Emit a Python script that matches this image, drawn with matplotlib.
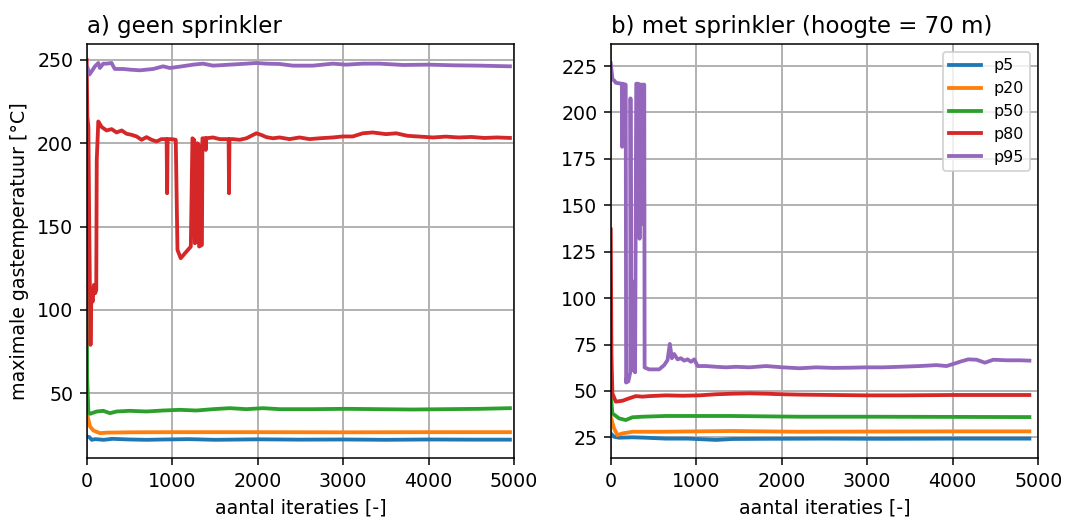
import matplotlib
matplotlib.use("Agg")
import matplotlib.pyplot as plt

labels = ["p5", "p20", "p50", "p80", "p95"]

# a) geen sprinkler
a_p5_x = [0, 7, 31, 60, 100, 200, 300, 500, 700, 900, 1200, 1500, 2000, 2500, 3000, 3500, 4000, 4500, 4950]
a_p5_y = [24.0, 24.0, 23.6, 22.0, 22.4, 22.0, 22.6, 22.2, 22.0, 22.2, 22.4, 22.0, 22.3, 22.1, 22.2, 22.0, 22.2, 22.1, 22.1]

a_p20_x = [0, 7, 39, 78, 155, 233, 500, 1000, 2000, 3000, 4000, 4950]
a_p20_y = [38.0, 37.0, 30.0, 27.6, 26.0, 26.3, 26.5, 26.6, 26.6, 26.5, 26.6, 26.6]

a_p50_x = [0, 5, 20, 39, 117, 194, 272, 350, 505, 700, 894, 1089, 1283, 1478, 1673, 1868,
           2062, 2256, 2451, 2645, 3035, 3424, 3800, 4200, 4600, 4950]
a_p50_y = [210, 60, 38.5, 37.6, 39.0, 39.4, 38.0, 39.0, 39.4, 39.0, 39.6, 40.0, 39.6, 40.4, 41.0, 40.4,
           41.0, 40.4, 40.4, 40.4, 40.6, 40.4, 40.2, 40.4, 40.6, 41.0]

a_p80_x = [0, 8, 20, 30, 45, 55, 70, 85, 100, 112, 118, 136, 175, 233, 292, 350, 409, 467, 525, 584,
           642, 700, 759, 817, 875, 935, 941, 947, 992, 1042, 1062, 1100, 1150, 1218, 1237, 1258, 1265,
           1290, 1296, 1310, 1315, 1348, 1354, 1390, 1393, 1397, 1478, 1556, 1660, 1665, 1670, 1711,
           1789, 1868, 1945, 1984, 2043, 2101, 2179, 2256, 2373, 2490, 2607, 2723, 2879, 2995, 3112,
           3229, 3346, 3500, 3620, 3750, 3900, 4050, 4200, 4350, 4500, 4650, 4800, 4950]
a_p80_y = [250, 216, 210, 150, 79, 110, 105, 115, 110, 112, 190, 213.1, 209.8, 207.7, 208.5, 206.5,
           207.7, 205.7, 205.1, 204.1, 202.1, 203.7, 202.1, 201.1, 202.5, 202.5, 170, 202.5, 202.5,
           202.1, 136, 131, 134, 138, 203, 202, 140, 141, 200, 199, 138, 139, 203, 203, 196, 203,
           203.5, 202.5, 202.5, 170, 202.5, 202.5, 202.1, 203, 205, 206, 205, 203.7, 203, 203.5,
           202.5, 203.5, 202.5, 203, 203.5, 204.1, 204.1, 206, 206.5, 205.5, 206, 204.5, 204, 203.5,
           204, 203.5, 203.8, 203.2, 203.5, 203.2]

a_p95_x = [0, 7, 31, 58, 97, 136, 155, 194, 233, 292, 311, 330, 428, 505, 622, 700, 778, 894, 972,
           1089, 1245, 1361, 1478, 1673, 1868, 1984, 2101, 2256, 2412, 2645, 2879, 3035, 3229, 3424,
           3700, 4000, 4300, 4600, 4950]
a_p95_y = [244, 246, 241.2, 243.2, 246.2, 248.2, 245.2, 247.8, 247.8, 248.2, 246.2, 244.6, 244.6,
           244.2, 243.8, 244.2, 244.6, 246.2, 245.2, 246, 247.2, 247.8, 246.6, 247.2, 247.8, 248.2,
           247.8, 247.6, 246.6, 246.6, 247.8, 247.2, 247.8, 247.8, 247.0, 247.2, 246.8, 246.6, 246.2]

# b) met sprinkler (hoogte = 70 m)
b_p5_x = [0, 39, 97, 254, 400, 645, 900, 1231, 1426, 1800, 2500, 3200, 4000, 4896]
b_p5_y = [27.1, 25.3, 24.8, 25.0, 24.8, 24.3, 24.3, 23.6, 24.1, 24.2, 24.3, 24.2, 24.3, 24.3]

b_p20_x = [0, 39, 78, 136, 254, 600, 1400, 2200, 3000, 4000, 4896]
b_p20_y = [36.1, 29.8, 26.2, 27.1, 28.0, 28.0, 28.4, 28.0, 28.1, 28.2, 28.2]

b_p50_x = [0, 19, 97, 176, 254, 371, 645, 1400, 2200, 3000, 4000, 4896]
b_p50_y = [48, 37.9, 35.2, 34.3, 35.8, 36.1, 36.5, 36.5, 36.1, 36.1, 36.0, 35.9]

b_p80_x = [0, 8, 19, 59, 136, 215, 293, 371, 449, 645, 840, 1035, 1231, 1426, 1621, 1817, 2012,
           2207, 2598, 2989, 3380, 4000, 4500, 4896]
b_p80_y = [137, 70, 48.7, 44.2, 44.7, 46.0, 47.2, 46.9, 47.2, 47.6, 47.4, 47.6, 48.2, 48.5, 48.7,
           48.5, 48.2, 48.0, 47.8, 47.6, 47.6, 47.8, 47.8, 47.8]

b_p95_x = [0, 20, 45, 60, 130, 133, 137, 175, 180, 190, 205, 228, 231, 240, 270, 278, 285, 298, 320,
           332, 337, 342, 360, 370, 375, 385, 392, 396, 449, 566, 625, 664, 691, 715, 742, 781, 820,
           859, 898, 938, 977, 1016, 1114, 1231, 1348, 1465, 1621, 1817, 2012, 2207, 2403, 2598,
           2793, 2989, 3184, 3380, 3614, 3810, 3927, 4005, 4083, 4181, 4279, 4376, 4474, 4631, 4787,
           4896]
b_p95_y = [226.5, 218, 217, 216, 215.5, 181.5, 215.5, 215, 54.5, 58, 55, 60, 207.6, 61, 62, 109, 60,
           215.5, 215.5, 215, 132, 215, 215, 140, 215, 215, 215, 62.6, 61.6, 61.6, 63.9, 66.6, 75.3,
           67.6, 69.9, 67.0, 67.6, 66.3, 67.0, 65.7, 67.0, 63.4, 63.4, 63.0, 62.7, 63.0, 62.7, 63.4,
           62.7, 62.2, 62.7, 62.4, 62.5, 62.7, 62.7, 63.0, 63.4, 63.9, 63.4, 64.5, 65.7, 67.0, 66.8,
           65.2, 66.8, 66.5, 66.5, 66.3]

a_series = [(a_p5_x, a_p5_y), (a_p20_x, a_p20_y), (a_p50_x, a_p50_y), (a_p80_x, a_p80_y), (a_p95_x, a_p95_y)]
b_series = [(b_p5_x, b_p5_y), (b_p20_x, b_p20_y), (b_p50_x, b_p50_y), (b_p80_x, b_p80_y), (b_p95_x, b_p95_y)]

fig, (ax1, ax2) = plt.subplots(1, 2, figsize=(1066 / 137, 517 / 137), dpi=137)
plt.subplots_adjust(left=0.0813, right=0.974, bottom=0.1132, top=0.9149, wspace=0.2258)

for (x, y), lab in zip(a_series, labels):
    ax1.plot(x, y, label=lab, lw=2)
for (x, y), lab in zip(b_series, labels):
    ax2.plot(x, y, label=lab, lw=2)

ax1.set_title("a) geen sprinkler", loc="left")
ax1.set_ylabel("maximale gastemperatuur [°C]")
ax1.set_xlabel("aantal iteraties [-]")
ax1.set_xlim(0, 5000)
ax1.set_ylim(10.8, 259.6)
ax1.set_yticks([50, 100, 150, 200, 250])
ax1.grid(True, lw=1)

ax2.set_title("b) met sprinkler (hoogte = 70 m)", loc="left")
ax2.set_xlabel("aantal iteraties [-]")
ax2.set_xlim(0, 5000)
ax2.set_ylim(13.6, 236.9)
ax2.set_yticks([25, 50, 75, 100, 125, 150, 175, 200, 225])
ax2.grid(True, lw=1)
ax2.legend(loc="upper right", fontsize="small")

plt.savefig("out.png", dpi=137)
